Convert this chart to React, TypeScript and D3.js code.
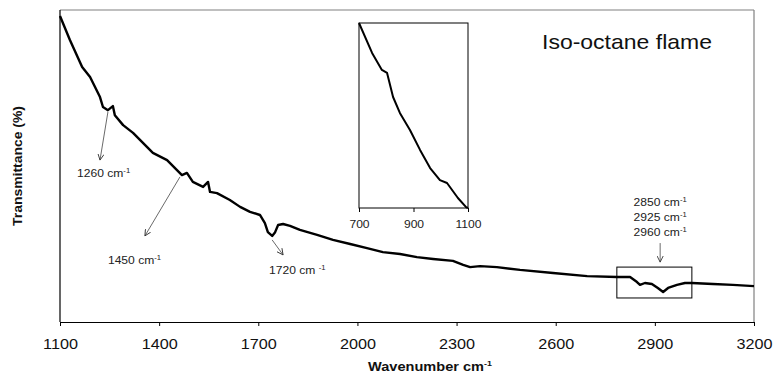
import * as React from 'react';
import * as d3 from 'd3';

// main spectrum (transmittance in arbitrary units, 0-100)
const wavenumber = [1100, 1130, 1167, 1191, 1221, 1230, 1245, 1260, 1266, 1291, 1321, 1363, 1381, 1424, 1454, 1469, 1484, 1502, 1533, 1548, 1554, 1575, 1614, 1645, 1675, 1705, 1720, 1729, 1742, 1751, 1760, 1775, 1796, 1826, 1878, 1926, 1978, 2029, 2077, 2129, 2180, 2229, 2289, 2320, 2341, 2371, 2422, 2492, 2592, 2695, 2785, 2825, 2846, 2855, 2870, 2891, 2909, 2925, 2940, 2967, 2991, 3012, 3076, 3136, 3200];
const transmittance = [98.1, 90.4, 81.7, 78.5, 72.1, 68.9, 67.9, 69.2, 66.3, 63.1, 60.6, 56.1, 54.2, 51.9, 48.7, 47.1, 47.8, 44.9, 43.3, 44.9, 41.7, 41.3, 39.1, 36.9, 35.3, 34.3, 31.7, 28.8, 27.6, 28.8, 31.1, 31.4, 30.8, 29.5, 27.9, 26.3, 25.0, 23.7, 22.4, 21.8, 20.8, 20.2, 19.6, 18.3, 17.6, 17.9, 17.6, 16.7, 15.7, 14.7, 14.4, 14.4, 12.8, 11.9, 12.5, 12.2, 10.9, 9.6, 10.9, 11.9, 12.5, 12.5, 12.2, 11.9, 11.5];

// inset 700-1100
const insetWavenumber = [700, 748, 784, 803, 825, 850, 887, 924, 961, 997, 1023, 1063, 1093, 1100];
const insetTransmittance = [100, 83.8, 74.6, 73, 60, 51.4, 42.2, 31.4, 21.6, 15.1, 13.5, 5.4, 0.5, 0];

const xTicks = [1100, 1400, 1700, 2000, 2300, 2600, 2900, 3200];
const insetTicks = [700, 900, 1100];

const annotations = [
    { label: '1260 cm', sup: '-1', from: [1245, 67.3], to: [1221, 51.9], dx: -23, dy: 17 },
    { label: '1450 cm', sup: '-1', from: [1463, 46.5], to: [1357, 27.6], dx: -37, dy: 28 },
    { label: '1720 cm ', sup: '-1', from: [1742, 26.3], to: [1775, 21.5], dx: -14, dy: 19 }
];
const stackLabels = ['2850 cm', '2925 cm', '2960 cm'];

const FONT = 'Liberation Sans, Arial, Helvetica, sans-serif';

export default function App() {
    const svgRef = React.useRef<SVGSVGElement>(null);

    React.useEffect(() => {
        const svg = d3.select(svgRef.current);
        svg.selectAll('*').remove();

        const left = 60, right = 754, top = 10, bottom = 322;
        const x = d3.scaleLinear().domain([1100, 3200]).range([left, right]);
        const y = d3.scaleLinear().domain([0, 100]).range([bottom, top]);

        const defs = svg.append('defs');
        defs.append('marker')
            .attr('id', 'head')
            .attr('viewBox', '0 0 8 8')
            .attr('refX', 7).attr('refY', 4)
            .attr('markerWidth', 7).attr('markerHeight', 7)
            .attr('markerUnits', 'userSpaceOnUse')
            .attr('orient', 'auto')
            .append('path')
            .attr('d', 'M0,0.5 L7,4 L0,7.5')
            .attr('fill', 'none')
            .attr('stroke', '#333')
            .attr('stroke-width', 1);

        // frame
        svg.append('line').attr('x1', left).attr('x2', right).attr('y1', top).attr('y2', top)
            .attr('stroke', '#808080').attr('stroke-width', 1.2);
        svg.append('line').attr('x1', right).attr('x2', right).attr('y1', top).attr('y2', bottom)
            .attr('stroke', '#808080').attr('stroke-width', 1.2);
        svg.append('line').attr('x1', left).attr('x2', left).attr('y1', top).attr('y2', bottom)
            .attr('stroke', '#000').attr('stroke-width', 1.2);

        const xAxis = d3.axisBottom(x).tickValues(xTicks).tickSizeInner(4).tickSizeOuter(0).tickPadding(12)
            .tickFormat(d3.format('d'));
        const gx = svg.append('g').attr('transform', 'translate(0,' + bottom + ')').call(xAxis);
        gx.select('.domain').attr('stroke', '#000').attr('stroke-width', 1.2);
        gx.selectAll('.tick line').attr('stroke', '#000');
        gx.selectAll('.tick text')
            .attr('font-family', FONT).attr('font-size', 15).attr('fill', '#111')
            .attr('transform', 'scale(1.08,1)');

        // main curve
        const pts = wavenumber.map((w, i) => [w, transmittance[i]] as [number, number]);
        const line = d3.line<[number, number]>().x(d => x(d[0])).y(d => y(d[1]));
        svg.append('path').datum(pts).attr('d', line)
            .attr('fill', 'none').attr('stroke', '#000').attr('stroke-width', 2.4)
            .attr('stroke-linejoin', 'round');

        // small box around C-H band
        svg.append('rect')
            .attr('x', x(2785)).attr('y', y(17.6))
            .attr('width', x(3012) - x(2785)).attr('height', y(7.7) - y(17.6))
            .attr('fill', 'none').attr('stroke', '#000').attr('stroke-width', 1);

        // annotations
        annotations.forEach(a => {
            svg.append('line')
                .attr('x1', x(a.from[0])).attr('y1', y(a.from[1]))
                .attr('x2', x(a.to[0])).attr('y2', y(a.to[1]))
                .attr('stroke', '#444').attr('stroke-width', 0.8)
                .attr('marker-end', 'url(#head)');
            const t = svg.append('text')
                .attr('transform', 'translate(' + (x(a.to[0]) + a.dx) + ',' + (y(a.to[1]) + a.dy) + ') scale(1.1,1)')
                .attr('font-family', FONT).attr('font-size', 11).attr('fill', '#222');
            t.append('tspan').text(a.label);
            t.append('tspan').attr('font-size', 7).attr('dy', -4).text(a.sup);
        });

        const sx = x(2916);
        stackLabels.forEach((s, i) => {
            const t = svg.append('text')
                .attr('transform', 'translate(' + sx + ',' + (206 + i * 15) + ') scale(1.1,1)')
                .attr('text-anchor', 'middle')
                .attr('font-family', FONT).attr('font-size', 11).attr('fill', '#222');
            t.append('tspan').text(s);
            t.append('tspan').attr('font-size', 7).attr('dy', -4).text('-1');
        });
        svg.append('line')
            .attr('x1', sx).attr('y1', y(25.3)).attr('x2', sx).attr('y2', y(19.2))
            .attr('stroke', '#444').attr('stroke-width', 0.8)
            .attr('marker-end', 'url(#head)');

        // title
        svg.append('text')
            .attr('transform', 'translate(542,49) scale(1.15,1)')
            .attr('font-family', FONT).attr('font-size', 20).attr('fill', '#111')
            .text('Iso-octane flame');

        // axis titles
        const xt = svg.append('text')
            .attr('transform', 'translate(430,371) scale(1.12,1)')
            .attr('text-anchor', 'middle')
            .attr('font-family', FONT).attr('font-size', 13).attr('font-weight', 'bold').attr('fill', '#111');
        xt.append('tspan').text('Wavenumber cm');
        xt.append('tspan').attr('font-size', 8).attr('dy', -5).text('-1');

        svg.append('text')
            .attr('transform', 'translate(22,166) rotate(-90)')
            .attr('text-anchor', 'middle')
            .attr('font-family', FONT).attr('font-size', 12).attr('font-weight', 'bold').attr('fill', '#111')
            .attr('textLength', 120).attr('lengthAdjust', 'spacingAndGlyphs')
            .text('Transmittance (%)');

        // inset
        const ix = d3.scaleLinear().domain([700, 1100]).range([359, 468]);
        const iy = d3.scaleLinear().domain([0, 100]).range([208, 23]);
        svg.append('rect').attr('x', 359).attr('y', 23).attr('width', 109).attr('height', 185)
            .attr('fill', '#fff').attr('stroke', '#000').attr('stroke-width', 1);
        const iAxis = d3.axisBottom(ix).tickValues(insetTicks).tickSizeInner(4).tickSizeOuter(0).tickPadding(8)
            .tickFormat(d3.format('d'));
        const gi = svg.append('g').attr('transform', 'translate(0,208)').call(iAxis);
        gi.select('.domain').remove();
        gi.selectAll('.tick line').attr('stroke', '#000');
        gi.selectAll('.tick text')
            .attr('font-family', FONT).attr('font-size', 11).attr('fill', '#222')
            .attr('transform', 'scale(1.1,1)');
        const ipts = insetWavenumber.map((w, i) => [w, insetTransmittance[i]] as [number, number]);
        const iline = d3.line<[number, number]>().x(d => ix(d[0])).y(d => iy(d[1]));
        svg.append('path').datum(ipts).attr('d', iline)
            .attr('fill', 'none').attr('stroke', '#000').attr('stroke-width', 2)
            .attr('stroke-linejoin', 'round');
    }, []);

    return (
        <svg ref={svgRef} width={774} height={377}
            style={{ position: 'absolute', left: 0, top: 0, background: '#fff' }} />
    );
}
